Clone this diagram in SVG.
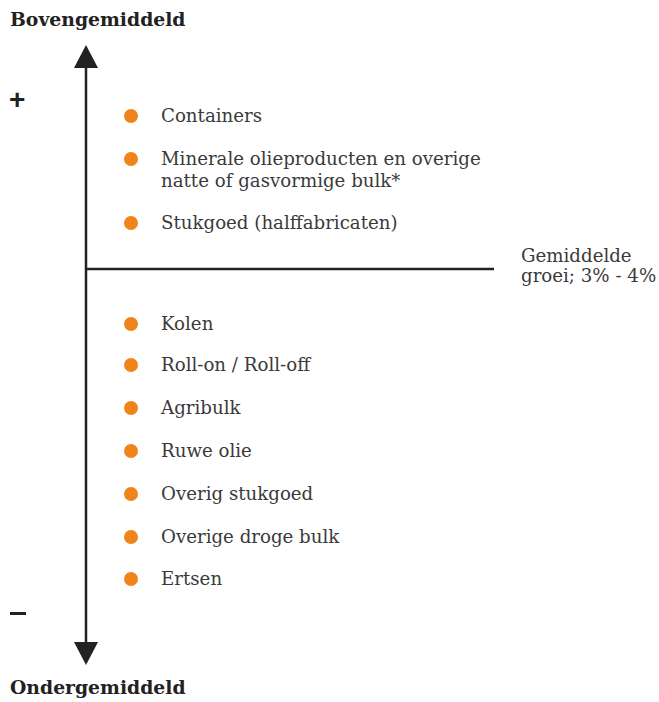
<svg xmlns="http://www.w3.org/2000/svg" width="659" height="702" viewBox="0 0 659 702">
<style>
.t{font-family:"DejaVu Serif","Liberation Serif",serif;font-size:18.2px;fill:#3a3a3a}
.h{font-family:"DejaVu Serif","Liberation Serif",serif;font-weight:bold;font-size:18.8px;fill:#222}
.s{font-family:"Liberation Sans",sans-serif;font-weight:bold;fill:#222}
.b{fill:#f0841c}
</style>
<rect width="659" height="702" fill="#fff"/>
<text class="h" x="10" y="26">Bovengemiddeld</text>
<text class="h" x="10" y="694">Ondergemiddeld</text>
<text class="s" x="9" y="109" font-size="28">+</text>
<rect x="10" y="612" width="16" height="3" fill="#222"/>
<g id="connectors" stroke="#222" fill="#222">
<line x1="86" y1="64" x2="86" y2="646" stroke-width="2.5"/>
<polygon points="86,45 98,68 74,68" stroke="none"/>
<polygon points="86,665 98,642 74,642" stroke="none"/>
<line x1="86" y1="269" x2="494" y2="269" stroke-width="2.5"/>
</g>
<g id="avg"><text class="t" x="521" y="262">Gemiddelde</text><text class="t" x="521" y="282">groei; 3% - 4%</text></g>
<g id="n1"><circle class="b" cx="131" cy="116" r="7"/><text class="t" x="161" y="122">Containers</text></g>
<g id="n2"><circle class="b" cx="131" cy="159" r="7"/><text class="t" x="161" y="165">Minerale olieproducten en overige</text><text class="t" x="161" y="187">natte of gasvormige bulk*</text></g>
<g id="n3"><circle class="b" cx="131" cy="223" r="7"/><text class="t" x="161" y="229">Stukgoed (halffabricaten)</text></g>
<g id="n4"><circle class="b" cx="131" cy="324" r="7"/><text class="t" x="161" y="330">Kolen</text></g>
<g id="n5"><circle class="b" cx="131" cy="365" r="7"/><text class="t" x="161" y="371">Roll-on / Roll-off</text></g>
<g id="n6"><circle class="b" cx="131" cy="408" r="7"/><text class="t" x="161" y="414">Agribulk</text></g>
<g id="n7"><circle class="b" cx="131" cy="451" r="7"/><text class="t" x="161" y="457">Ruwe olie</text></g>
<g id="n8"><circle class="b" cx="131" cy="494" r="7"/><text class="t" x="161" y="500">Overig stukgoed</text></g>
<g id="n9"><circle class="b" cx="131" cy="537" r="7"/><text class="t" x="161" y="543">Overige droge bulk</text></g>
<g id="n10"><circle class="b" cx="131" cy="579" r="7"/><text class="t" x="161" y="585">Ertsen</text></g>
</svg>
